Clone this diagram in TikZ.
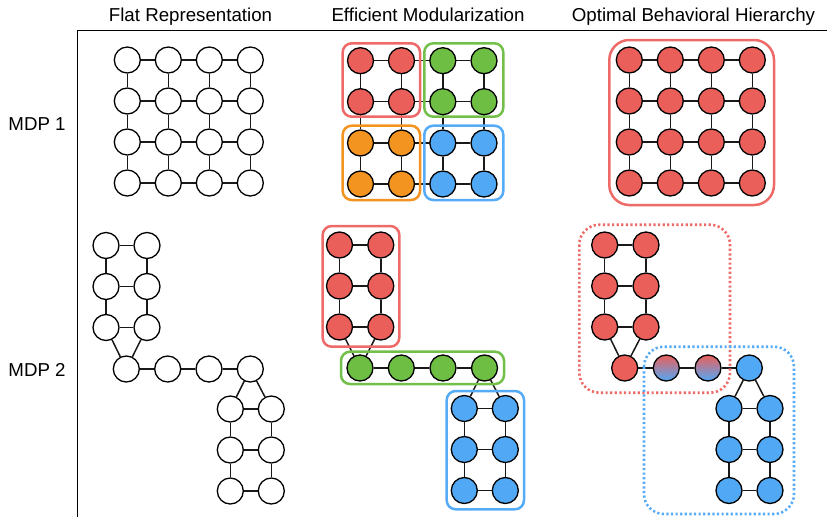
\documentclass[tikz,border=0pt]{standalone}
\usepackage{fontspec}
\setmainfont{Liberation Sans}
\usetikzlibrary{backgrounds}
\definecolor{cred}{HTML}{EB5F5A}
\definecolor{cgreen}{HTML}{6EBE44}
\definecolor{corange}{HTML}{F39320}
\definecolor{cblue}{HTML}{51A9F6}
\definecolor{bred}{HTML}{EE6A68}
\definecolor{bgreen}{HTML}{72C04A}
\definecolor{borange}{HTML}{F39320}
\definecolor{bblue}{HTML}{56ABF6}
\tikzset{
  st/.style={circle,draw=black,line width=1.3pt,minimum size=26pt,inner sep=0pt},
  wn/.style={st,fill=white},
  rn/.style={st,fill=cred},
  gn/.style={st,fill=cgreen},
  on/.style={st,fill=corange},
  bn/.style={st,fill=cblue},
  mixn/.style={st,top color=cred,bottom color=cblue},
  edge/.style={line width=1.5pt,draw=black!90},
  grp/.style={line width=2.5pt,rounded corners=9pt},
  dotgrp/.style={line width=2.6pt,rounded corners=20pt,dash pattern=on 2.2pt off 2.4pt},
  lbl/.style={font=\fontsize{18.7}{22}\selectfont,anchor=base,inner sep=0pt},
}
\newcommand\gridedges[1]{%
  \foreach \r in {0,1,2,3}{\foreach \c/\d in {0/1,1/2,2/3}{\draw[edge] (#1\r\c)--(#1\r\d);}}
  \foreach \c in {0,1,2,3}{\foreach \r/\s in {0/1,1/2,2/3}{\draw[edge] (#1\r\c)--(#1\s\c);}}
}
\newcommand\twoedges[1]{%
  \foreach \r in {0,1,2}{\draw[edge] (#1a\r0)--(#1a\r1); \draw[edge] (#1b\r0)--(#1b\r1);}
  \foreach \r/\s in {0/1,1/2}{\draw[edge] (#1a\r0)--(#1a\s0); \draw[edge] (#1a\r1)--(#1a\s1);
    \draw[edge] (#1b\r0)--(#1b\s0); \draw[edge] (#1b\r1)--(#1b\s1);}
  \draw[edge] (#1a20)--(#1c0); \draw[edge] (#1a21)--(#1c0);
  \draw[edge] (#1c0)--(#1c1)--(#1c2)--(#1c3);
  \draw[edge] (#1c3)--(#1b00); \draw[edge] (#1c3)--(#1b01);
}
\begin{document}
\begin{tikzpicture}[x=1pt,y=-1pt]
\useasboundingbox (0,0) rectangle (827,517);
% headers
\node[lbl] (h1) at (190.5,21.7) {Flat Representation};
\node[lbl] (h2) at (428,21.7) {Efficient Modularization};
\node[lbl] (h3) at (693.5,21.7) {Optimal Behavioral Hierarchy};
\node[lbl] (m1) at (37,130.7) {MDP 1};
\node[lbl] (m2) at (37,376.7) {MDP 2};
% axes
\coordinate (ax0) at (77.3,517);
\coordinate (ax1) at (77.3,30.5);
\coordinate (ax2) at (827,30.5);
\draw[line width=1.3pt] (ax0)--(ax1)--(ax2);

% ---------- MDP 1 flat
\foreach \r/\y in {0/60,1/101,2/142,3/183}{
  \foreach \c/\x in {0/127.3,1/168.3,2/209.3,3/250.3}{
    \node[wn] (f\r\c) at (\x,\y) {};}}
% ---------- MDP 1 efficient
\foreach \r/\y in {0/60.7,1/101.7,2/143,3/184}{
  \foreach \c/\x in {0/360.5,1/401.5,2/442.8,3/484}{
    \pgfmathtruncatemacro\q{2*(\r>1)+(\c>1)}
    \ifcase\q \node[rn] (e\r\c) at (\x,\y) {};
    \or \node[gn] (e\r\c) at (\x,\y) {};
    \or \node[on] (e\r\c) at (\x,\y) {};
    \or \node[bn] (e\r\c) at (\x,\y) {};
    \fi}}
\draw[grp,draw=bred] (342.7,43.3) rectangle (420,116.7);
\draw[grp,draw=bgreen] (424.3,43.3) rectangle (503.3,116.7);
\draw[grp,draw=borange] (342.7,125.7) rectangle (420,200);
\draw[grp,draw=bblue] (424.3,125.7) rectangle (503.3,200);
% ---------- MDP 1 optimal
\foreach \r/\y in {0/60,1/101,2/142,3/183}{
  \foreach \c/\x in {0/629.3,1/670.3,2/711.3,3/752.3}{
    \node[rn] (o\r\c) at (\x,\y) {};}}
\draw[line width=2.5pt,rounded corners=20pt,draw=bred] (609.3,40) rectangle (774,205);

% ---------- MDP 2 flat
\foreach \r/\y in {0/245.5,1/286.5,2/327.5}{
  \node[wn] (pa\r0) at (106,\y) {}; \node[wn] (pa\r1) at (147,\y) {};}
\foreach \c/\x in {0/126.3,1/167.7,2/209,3/250.3}{\node[wn] (pc\c) at (\x,369) {};}
\foreach \r/\y in {0/409,1/450,2/491}{
  \node[wn] (pb\r0) at (230.3,\y) {}; \node[wn] (pb\r1) at (271.3,\y) {};}
% ---------- MDP 2 efficient
\foreach \r/\y in {0/245,1/286,2/327}{
  \node[rn] (qa\r0) at (339.5,\y) {}; \node[rn] (qa\r1) at (380.8,\y) {};}
\foreach \c/\x in {0/360,1/401.3,2/443,3/484.5}{\node[gn] (qc\c) at (\x,368) {};}
\foreach \r/\y in {0/408.5,1/449.5,2/490.5}{
  \node[bn] (qb\r0) at (464.3,\y) {}; \node[bn] (qb\r1) at (505.3,\y) {};}
\draw[grp,draw=bred] (322.7,226) rectangle (399.3,346.7);
\draw[grp,draw=bgreen] (341,351.7) rectangle (504,384);
\draw[grp,draw=bblue] (446.7,391) rectangle (524,509.3);
% ---------- MDP 2 optimal
\foreach \r/\y in {0/245,1/286,2/327}{
  \node[rn] (ra\r0) at (604.7,\y) {}; \node[rn] (ra\r1) at (646,\y) {};}
\node[rn] (rc0) at (624.7,368) {};
\node[mixn] (rc1) at (666.3,368) {};
\node[mixn] (rc2) at (708,368) {};
\node[bn] (rc3) at (749.3,368) {};
\foreach \r/\y in {0/408.5,1/449.5,2/490.5}{
  \node[bn] (rb\r0) at (729,\y) {}; \node[bn] (rb\r1) at (770,\y) {};}
\draw[dotgrp,draw=bred] (579.3,224.7) rectangle (730,392.7);
\draw[dotgrp,draw=bblue] (644,346.7) rectangle (794,514);

% ---------- edges
\begin{pgfonlayer}{background}
\gridedges{f}
\gridedges{e}
\gridedges{o}
\twoedges{p}
\twoedges{q}
\twoedges{r}
\end{pgfonlayer}
\end{tikzpicture}
\end{document}
